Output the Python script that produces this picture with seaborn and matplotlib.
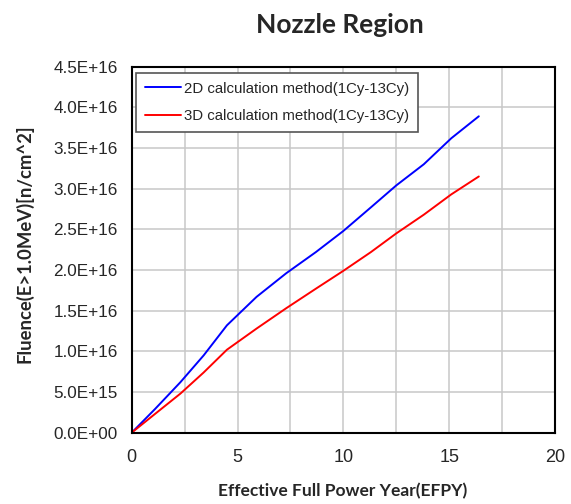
import pandas as pd
import matplotlib
matplotlib.use("Agg")
import matplotlib.pyplot as plt
import seaborn as sns
from matplotlib.ticker import MultipleLocator, FuncFormatter

# cumulative EFPY at end of each cycle (1Cy - 13Cy)
efpy = [0, 1.1, 2.3, 3.4, 4.5, 5.9, 7.3, 8.7, 10.0, 11.3, 12.5, 13.8, 15.1, 16.4]
fluence_2d = [0, 0.29e16, 0.62e16, 0.95e16, 1.32e16, 1.67e16, 1.96e16, 2.22e16,
              2.48e16, 2.77e16, 3.04e16, 3.30e16, 3.62e16, 3.89e16]
fluence_3d = [0, 0.23e16, 0.48e16, 0.74e16, 1.02e16, 1.28e16, 1.53e16, 1.77e16,
              1.99e16, 2.22e16, 2.45e16, 2.68e16, 2.93e16, 3.15e16]
labels = ["2D calculation method(1Cy-13Cy)", "3D calculation method(1Cy-13Cy)"]

df = pd.concat([
    pd.DataFrame({"EFPY": efpy, "Fluence": fluence_2d, "Method": labels[0]}),
    pd.DataFrame({"EFPY": efpy, "Fluence": fluence_3d, "Method": labels[1]}),
], ignore_index=True)

sns.set_style("white")
plt.rcParams["font.family"] = ["Liberation Sans", "DejaVu Sans"]

fig = plt.figure(figsize=(5.71, 5.04), dpi=100)
ax = fig.add_axes([0.2306, 0.1415, 0.7414, 0.7262])

sns.lineplot(data=df, x="EFPY", y="Fluence", hue="Method", sort=False,
             estimator=None, palette=["#0000ff", "#ff0000"], linewidth=1.4, ax=ax)

ax.set_xlim(0, 20)
ax.set_ylim(0, 4.5e16)
ax.xaxis.set_major_locator(MultipleLocator(5))
ax.xaxis.set_minor_locator(MultipleLocator(2.5))
ax.yaxis.set_major_locator(MultipleLocator(0.5e16))


def sci(v, pos):
    if v == 0:
        return "0.0E+00"
    return "%.1E" % v


ax.yaxis.set_major_formatter(FuncFormatter(sci))
ax.grid(True, which="both", color="#c8c8c8", linewidth=1.1)
ax.set_axisbelow(True)
for sp in ax.spines.values():
    sp.set_color("black")
    sp.set_linewidth(1.5)
ax.tick_params(axis="y", direction="in", length=4, width=1, labelsize=12.3, pad=10)
ax.tick_params(axis="x", length=0, labelsize=13, pad=12)

ax.set_xlabel("Effective Full Power Year(EFPY)", family="Lato", fontweight="bold",
              fontsize=12.5, va="center")
ax.xaxis.set_label_coords(0.499, -0.159)
ax.set_ylabel("Fluence(E>1.0MeV)[n/cm^2]", family="Lato", fontweight="bold",
              fontsize=13.3, va="center")
ax.yaxis.set_label_coords(-0.254, 0.516)
fig.text(0.595, 0.950, "Nozzle Region", family="Lato", fontweight="bold",
         fontsize=19, ha="center", va="center")

leg = ax.legend(loc="upper left", bbox_to_anchor=(0.010, 0.984), borderaxespad=0,
                fancybox=False, framealpha=1, edgecolor="#555555", fontsize=10.8,
                handlelength=2.4, handletextpad=0.2, labelspacing=0.9,
                borderpad=0.6)
leg.get_frame().set_linewidth(1.2)

fig.savefig("out.png", dpi=100)
